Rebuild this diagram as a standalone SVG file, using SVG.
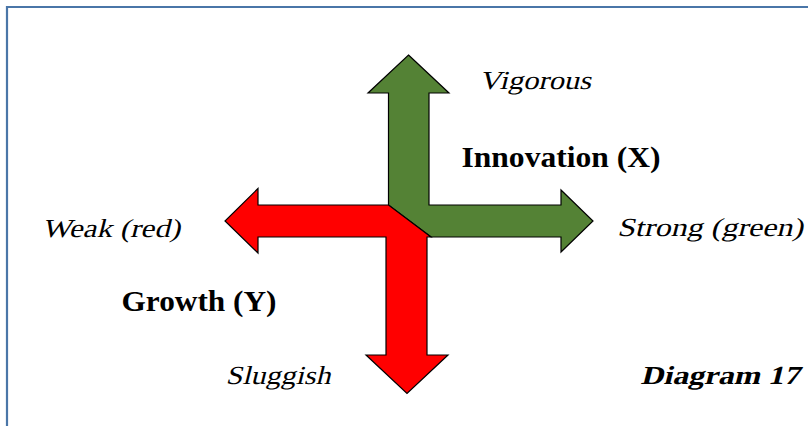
<svg xmlns="http://www.w3.org/2000/svg" width="808" height="426" viewBox="0 0 808 426">
<style>
.it{font-family:"Liberation Serif","Times New Roman",serif;font-size:26px;fill:#000}
.bd{font-family:"Liberation Serif","Times New Roman",serif;font-weight:bold;font-size:29px;fill:#000}
.bi{font-family:"Liberation Serif","Times New Roman",serif;font-weight:bold;font-size:26px;fill:#000}
.arw{stroke:#000;stroke-width:1.2;stroke-linejoin:miter}
</style>
<rect width="808" height="426" fill="#fff"/>
<path d="M7,426 V7 H808" fill="none" stroke="#4a76a8" stroke-width="2.2"/>
<g id="connectors">
<g id="green-arrows">
<polygon class="arw" fill="#548235" points="408.5,55 449,93 429,93 429,205 561,205 561,190 593,221 561,252 561,237 431,237 388.5,205 388.5,93 368,93"/>
</g>
<g id="red-arrows">
<polygon class="arw" fill="#ff0000" points="388.5,205 258,205 258,188.5 225,221 258,253 258,237 386,237 386,355 366,355 407,393.5 448,355 427,355 427,237 431,237"/>
</g>
</g>
<g id="label-vigorous" transform="translate(479,89) skewX(-14)"><text class="it" x="0" y="0" textLength="112" lengthAdjust="spacingAndGlyphs">Vigorous</text></g>
<g id="label-innovation"><text class="bd" x="461.5" y="166.5" textLength="199" lengthAdjust="spacingAndGlyphs">Innovation (X)</text></g>
<g id="label-weak" transform="translate(42,236.5) skewX(-14)"><text class="it" x="0" y="0" textLength="138" lengthAdjust="spacingAndGlyphs">Weak (red)</text></g>
<g id="label-strong" transform="translate(617,236) skewX(-14)"><text class="it" x="0" y="0" textLength="186" lengthAdjust="spacingAndGlyphs">Strong (green)</text></g>
<g id="label-growth"><text class="bd" x="121.5" y="310.5" textLength="155" lengthAdjust="spacingAndGlyphs">Growth (Y)</text></g>
<g id="label-sluggish" transform="translate(225.5,384) skewX(-14)"><text class="it" x="0" y="0" textLength="105" lengthAdjust="spacingAndGlyphs">Sluggish</text></g>
<g id="label-diagram" transform="translate(640.5,384) skewX(-14)"><text class="bi" x="0" y="0" textLength="159" lengthAdjust="spacingAndGlyphs">Diagram 17</text></g>
</svg>
